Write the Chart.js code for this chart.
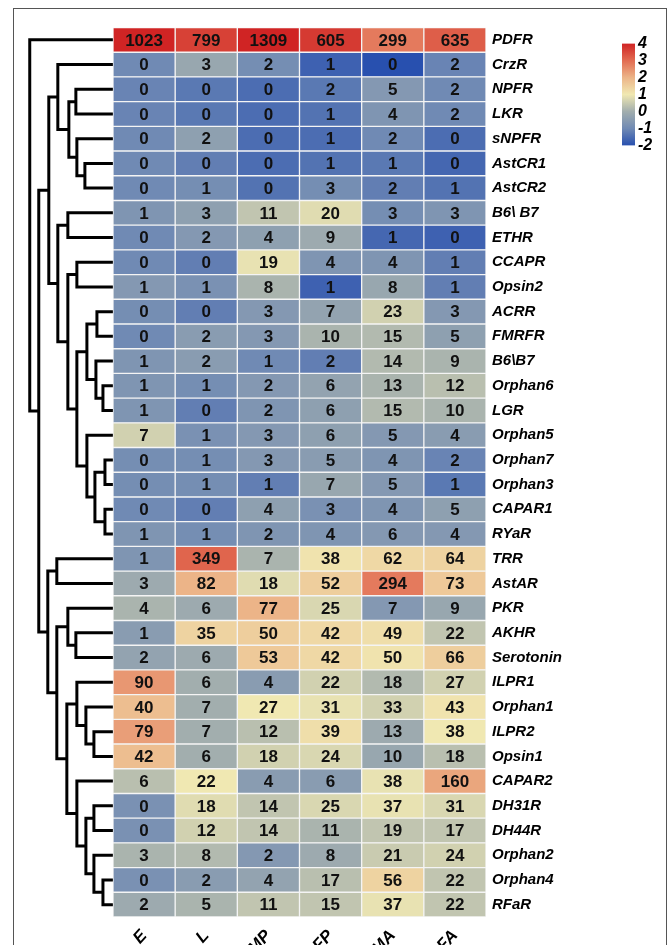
<!DOCTYPE html>
<html>
<head>
<meta charset="utf-8">
<script src="https://cdn.jsdelivr.net/npm/chart.js@4.4.1/dist/chart.umd.min.js"></script>
<style>
  html, body { margin: 0; padding: 0; background: #fff; overflow: hidden; }
  #wrap { position: relative; width: 670px; height: 945px; overflow: hidden; }
  #main { position: absolute; left: 0; top: 0; }
  #scale { position: absolute; left: 615px; top: 31px; }
  #frame { position: absolute; left: 13px; top: 8px; width: 652px; height: 1000px; border: 1.5px solid #555; pointer-events: none; }
</style>
</head>
<body>
<div id="wrap">
  <canvas id="main" width="670" height="1000"></canvas>
  <canvas id="scale" width="55" height="127"></canvas>
  <div id="frame"></div>
</div>
<script>
// Строки (рецепторы) и столбцы (стадии)
const rowNames = ['PDFR', 'CrzR', 'NPFR', 'LKR', 'sNPFR', 'AstCR1', 'AstCR2', 'B6\\ B7', 'ETHR', 'CCAPR',
  'Opsin2', 'ACRR', 'FMRFR', 'B6\\B7', 'Orphan6', 'LGR', 'Orphan5', 'Orphan7', 'Orphan3', 'CAPAR1',
  'RYaR', 'TRR', 'AstAR', 'PKR', 'AKHR', 'Serotonin', 'ILPR1', 'Orphan1', 'ILPR2', 'Opsin1',
  'CAPAR2', 'DH31R', 'DH44R', 'Orphan2', 'Orphan4', 'RFaR'];
const colLabels = ['E', 'L', 'MP', 'FP', 'MA', 'FA'];

// Числа в ячейках
const countsE = [1023, 0, 0, 0, 0, 0, 0, 1, 0, 0, 1, 0, 0, 1, 1, 1, 7, 0, 0, 0, 1, 1, 3, 4, 1, 2, 90, 40, 79, 42, 6, 0, 0, 3, 0, 2];
const countsL = [799, 3, 0, 0, 2, 0, 1, 3, 2, 0, 1, 0, 2, 2, 1, 0, 1, 1, 1, 0, 1, 349, 82, 6, 35, 6, 6, 7, 7, 6, 22, 18, 12, 8, 2, 5];
const countsMP = [1309, 2, 0, 0, 0, 0, 0, 11, 4, 19, 8, 3, 3, 1, 2, 2, 3, 3, 1, 4, 2, 7, 18, 77, 50, 53, 4, 27, 12, 18, 4, 14, 14, 2, 4, 11];
const countsFP = [605, 1, 2, 1, 1, 1, 3, 20, 9, 4, 1, 7, 10, 2, 6, 6, 6, 5, 7, 3, 4, 38, 52, 25, 42, 42, 22, 31, 39, 24, 6, 25, 11, 8, 17, 15];
const countsMA = [299, 0, 5, 4, 2, 1, 2, 3, 1, 4, 8, 23, 15, 14, 13, 15, 5, 4, 5, 4, 6, 62, 294, 7, 49, 50, 18, 33, 13, 10, 38, 37, 19, 21, 56, 37];
const countsFA = [635, 2, 2, 2, 0, 0, 1, 3, 0, 1, 1, 3, 5, 9, 12, 10, 4, 2, 1, 5, 4, 64, 73, 9, 22, 66, 27, 43, 38, 18, 160, 31, 17, 24, 22, 22];

// Значения шкалы цвета (оценка по картинке, -2..4)
const scoreE = [4.0, -1.0, -1.1, -1.1, -1.0, -1.0, -1.0, -0.7, -1.0, -1.0, -0.6, -0.9, -1.0, -0.7, -0.7, -0.7, 0.6, -0.9, -0.9, -1.0, -0.7, -0.7, -0.1, 0.1, -0.5, -0.3, 2.4, 1.8, 2.3, 1.8, 0.3, -0.8, -0.8, 0.1, -0.8, -0.1];
const scoreL = [3.6, -0.2, -1.3, -1.3, -0.4, -1.2, -0.9, -0.4, -0.6, -1.2, -0.8, -1.2, -0.5, -0.5, -0.9, -1.2, -0.8, -0.9, -0.9, -1.2, -0.9, 3.1, 2.0, -0.1, 1.4, -0.1, 0.0, 0.0, 0.0, 0.0, 1.0, 0.8, 0.6, 0.2, -0.5, 0.1];
const scoreMP = [4.0, -0.9, -1.5, -1.5, -1.5, -1.5, -1.4, 0.4, -0.4, 0.9, 0.1, -0.6, -0.6, -1.0, -0.6, -0.7, -0.6, -0.6, -1.2, -0.4, -0.7, 0.1, 0.8, 2.0, 1.5, 1.6, -0.5, 1.0, 0.3, 0.6, -0.5, 0.4, 0.4, -0.6, -0.3, 0.4];
const scoreFP = [3.7, -1.7, -1.3, -1.4, -1.5, -1.4, -0.9, 0.8, -0.1, -0.7, -1.7, -0.3, 0.1, -1.2, -0.3, -0.4, -0.4, -0.5, -0.2, -0.8, -0.7, 1.1, 1.5, 0.7, 1.3, 1.3, 0.6, 0.9, 1.2, 0.7, -0.5, 0.7, 0.1, -0.1, 0.3, 0.4];
const scoreMA = [2.8, -2.0, -0.6, -0.7, -1.0, -1.3, -1.2, -0.9, -1.6, -0.7, -0.2, 0.6, 0.2, 0.2, 0.1, 0.2, -0.6, -0.7, -0.6, -0.7, -0.6, 1.3, 2.8, -0.6, 1.2, 1.1, 0.2, 0.6, -0.1, -0.2, 0.9, 0.9, 0.4, 0.5, 1.4, 0.9];
const scoreFA = [3.2, -1.1, -1.0, -1.0, -1.5, -1.6, -1.4, -0.7, -1.7, -1.2, -1.2, -0.6, -0.4, 0.1, 0.3, 0.1, -0.5, -1.1, -1.3, -0.4, -0.6, 1.4, 1.6, -0.2, 0.4, 1.5, 0.6, 1.1, 1.0, 0.3, 2.2, 0.7, 0.4, 0.6, 0.4, 0.4];

// Шкала цвета
const scaleTicks = [4, 3, 2, 1, 0, -1, -2];
const scaleColors = [[40, 80, 175], [112, 138, 180], [162, 174, 174], [240, 232, 178], [236, 180, 136], [226, 108, 82], [208, 36, 36]];

// Дендрограмма: [узел, левый, правый, высота]
const merges = [
  ['a', 2, 3, 37], ['b', 5, 6, 28], ['c', 4, 'b', 36], ['d', 'a', 'c', 44], ['e', 1, 'd', 55],
  ['f', 7, 8, 45], ['g', 9, 10, 36], ['h', 11, 12, 16], ['i', 14, 15, 10], ['j', 13, 'i', 17],
  ['k', 'h', 'j', 26], ['l', 17, 18, 8], ['m', 19, 20, 8], ['n', 'l', 'm', 18], ['o', 16, 'n', 26],
  ['p', 'k', 'o', 36], ['q', 'g', 'p', 45], ['r', 'f', 'q', 55], ['s', 'e', 'r', 64],
  ['t', 21, 22, 56], ['u', 24, 25, 37], ['v', 23, 'u', 45], ['w', 28, 29, 19], ['x', 27, 'w', 27],
  ['y', 26, 'x', 36], ['aa', 31, 32, 19], ['ab', 34, 35, 10], ['ac', 33, 'ab', 19], ['ad', 'aa', 'ac', 27],
  ['ae', 30, 'ad', 36], ['af', 'y', 'ae', 46], ['ag', 'v', 'af', 56], ['ah', 't', 'ag', 65],
  ['ai', 's', 'ah', 74], ['root', 0, 'ai', 83]
];

const counts = [countsE, countsL, countsMP, countsFP, countsMA, countsFA];
const scores = [scoreE, scoreL, scoreMP, scoreFP, scoreMA, scoreFA];
const TREE_UNIT = 1 / 62; // ширина столбца на единицу расстояния

Chart.defaults.font.family = '"Liberation Sans", Arial, sans-serif';

function heatColor(v) {
  const t = Math.max(-2, Math.min(4, v)) + 2;
  const i = Math.min(5, Math.floor(t));
  const f = t - i;
  const a = scaleColors[i], b = scaleColors[i + 1];
  return 'rgb(' + a.map((ch, k) => Math.round(ch + (b[k] - ch) * f)).join(',') + ')';
}

// Линии дендрограммы
const nodes = {};
const treeSets = [];
function nodePos(ref) {
  return typeof ref === 'number' ? { x: 0, y: ref } : nodes[ref];
}
merges.forEach(([id, a, b, h]) => {
  const pa = nodePos(a), pb = nodePos(b);
  const x = -h * TREE_UNIT;
  nodes[id] = { x: x, y: (pa.y + pb.y) / 2 };
  treeSets.push({
    type: 'line',
    data: [{ x: pa.x, y: pa.y }, { x: x, y: pa.y }, { x: x, y: pb.y }, { x: pb.x, y: pb.y }],
    borderColor: '#000',
    borderWidth: 3,
    borderJoinStyle: 'miter',
    pointRadius: 0,
    fill: false
  });
});

// Ячейки тепловой карты
const heatSets = colLabels.map((lab, c) => ({
  type: 'bar',
  label: lab,
  data: rowNames.map((r, i) => ({ y: i, x: [c, c + 1] })),
  backgroundColor: scores[c].map(heatColor),
  borderColor: '#f4f4f4',
  borderWidth: 1,
  borderSkipped: false,
  grouped: false,
  barPercentage: 1,
  categoryPercentage: 1
}));

const cellText = {
  id: 'cellText',
  afterDatasetsDraw(chart) {
    const ctx = chart.ctx;
    ctx.save();
    ctx.font = 'bold 17px "Liberation Sans", Arial, sans-serif';
    ctx.fillStyle = '#111';
    ctx.textAlign = 'center';
    ctx.textBaseline = 'middle';
    chart.data.datasets.forEach((ds, di) => {
      if (ds.type !== 'bar') return;
      const col = colLabels.indexOf(ds.label);
      chart.getDatasetMeta(di).data.forEach((el, i) => {
        ctx.fillText(String(counts[col][i]), (el.x + el.base) / 2, el.y + 1);
      });
    });
    ctx.restore();
  }
};

const labelFont = { size: 15, weight: 'bold', style: 'italic' };

new Chart(document.getElementById('main'), {
  data: { datasets: [...heatSets, ...treeSets] },
  options: {
    indexAxis: 'y',
    responsive: false,
    animation: false,
    layout: { autoPadding: false, padding: { left: 13.5, top: 27.5, right: 0, bottom: 0 } },
    plugins: { legend: { display: false }, tooltip: { enabled: false } },
    scales: {
      x: {
        type: 'linear', min: -1.6, max: 6, position: 'bottom', offset: false,
        grid: { display: false, drawTicks: false },
        border: { display: false },
        afterBuildTicks: (ax) => { ax.ticks = colLabels.map((_, i) => ({ value: i + 0.5 })); },
        afterFit: (ax) => { ax.height = 83; },
        ticks: {
          autoSkip: false, minRotation: 48, maxRotation: 48, padding: 9, color: '#000',
          font: { size: 17, weight: 'bold', style: 'italic' },
          callback: (v) => colLabels[Math.floor(v)]
        }
      },
      y: {
        type: 'linear', min: -0.5, max: 35.5, reverse: true, position: 'right', offset: false,
        grid: { display: false, drawTicks: false },
        border: { display: false },
        afterBuildTicks: (ax) => { ax.ticks = rowNames.map((_, i) => ({ value: i })); },
        afterFit: (ax) => { ax.width = 184; },
        ticks: {
          autoSkip: false, padding: 6, color: '#000', font: labelFont,
          callback: (v) => rowNames[v]
        }
      }
    }
  },
  plugins: [cellText]
});

// Цветовая шкала
new Chart(document.getElementById('scale'), {
  type: 'bar',
  data: {
    labels: ['z'],
    datasets: [{
      data: [[-2, 4]],
      backgroundColor: (ctx) => {
        const area = ctx.chart.chartArea;
        if (!area) return '#999';
        const g = ctx.chart.ctx.createLinearGradient(0, area.bottom, 0, area.top);
        scaleColors.forEach((c, i) => g.addColorStop(i / (scaleColors.length - 1), 'rgb(' + c.join(',') + ')'));
        return g;
      },
      borderWidth: 0,
      barPercentage: 1,
      categoryPercentage: 1
    }]
  },
  options: {
    responsive: false,
    animation: false,
    layout: { autoPadding: false, padding: { left: 7, top: 10, right: 0, bottom: 10 } },
    plugins: { legend: { display: false }, tooltip: { enabled: false } },
    scales: {
      x: { display: false },
      y: {
        min: -2, max: 4, position: 'right',
        grid: { display: false, drawTicks: false },
        border: { display: false },
        afterBuildTicks: (ax) => { ax.ticks = scaleTicks.map(v => ({ value: v })); },
        afterFit: (ax) => { ax.width = 35; },
        ticks: {
          autoSkip: false, padding: 3, color: '#000',
          font: { size: 16, weight: 'bold', style: 'italic' },
          callback: (v) => String(v)
        }
      }
    }
  }
});
</script>
</body>
</html>
